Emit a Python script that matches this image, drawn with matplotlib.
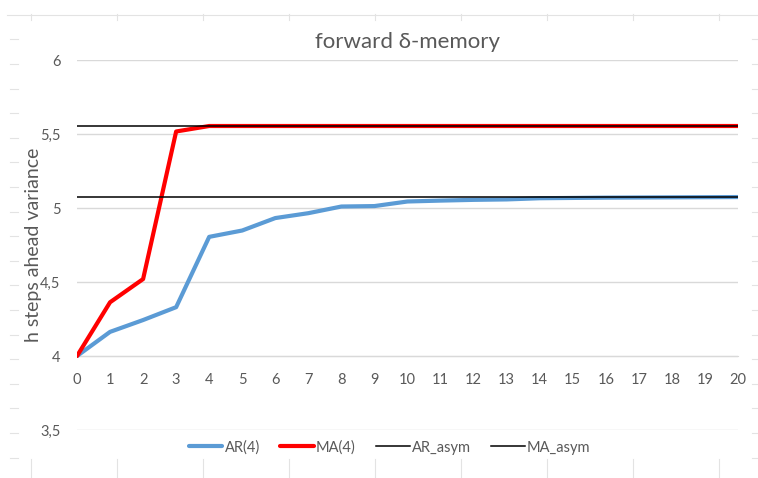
import matplotlib
matplotlib.use("Agg")
import matplotlib.pyplot as plt
from matplotlib.ticker import FuncFormatter, MultipleLocator
from matplotlib.lines import Line2D

# Forecast horizon and h-step-ahead forecast error variances
horizon = list(range(0, 21))
ar4 = [4.0, 4.163, 4.243, 4.33, 4.805, 4.848, 4.932, 4.965, 5.01, 5.013, 5.044,
       5.05, 5.055, 5.058, 5.066, 5.068, 5.07, 5.071, 5.072, 5.073, 5.074]
ma4 = [4.0, 4.363, 4.52, 5.517, 5.554, 5.554, 5.554, 5.554, 5.554, 5.554, 5.554,
       5.554, 5.554, 5.554, 5.554, 5.554, 5.554, 5.554, 5.554, 5.554, 5.554]
ar_asym = 5.074
ma_asym = 5.554

series_names = ["AR(4)", "MA(4)", "AR_asym", "MA_asym"]
title = "forward δ-memory"
ylabel = "h steps ahead variance"

plt.rcParams['font.family'] = ['Lato', 'DejaVu Sans']
TXT = "#595959"
GRID = "#D9D9D9"
SHEET = "#E3E3E3"

W, H = 758, 478
fig = plt.figure(figsize=(W / 100, H / 100), dpi=100)

# spreadsheet cell borders around the chart object
def fl(x0, y0, x1, y1):
    fig.add_artist(Line2D([x0 / W, x1 / W], [1 - y0 / H, 1 - y1 / H],
                          color=SHEET, lw=0.8, transform=fig.transFigure, zorder=0))

fl(7, 15, W, 15)
for x in [31, 117, 203, 289, 375, 461, 547, 633, 719]:
    fl(x, 14, x, 20)
    fl(x, 459, x, H)
for i in range(18):
    y = 39.3 + 24.6 * i
    fl(10, y, 18, y)
    fl(752, y, W, y)

ax = fig.add_axes([77 / W, 1 - 430 / H, (738 - 77) / W, (430 - 60) / H])
ax.set_xlim(0, 20)
ax.set_ylim(3.5, 6)

ax.plot(horizon, ar4, color="#5B9BD5", lw=3.0, solid_joinstyle="round",
        solid_capstyle="round", label=series_names[0], zorder=3)
ax.plot(horizon, ma4, color="#FF0000", lw=3.0, solid_joinstyle="round",
        solid_capstyle="round", label=series_names[1], zorder=4)
ax.plot(horizon, [ar_asym] * len(horizon), color="black", lw=1.1,
        label=series_names[2], zorder=5)
ax.plot(horizon, [ma_asym] * len(horizon), color="black", lw=1.1,
        label=series_names[3], zorder=5)

ax.yaxis.set_major_locator(MultipleLocator(0.5))
ax.yaxis.set_major_formatter(FuncFormatter(lambda v, p: f"{v:g}".replace(".", ",")))
ax.set_xticks(horizon)
ax.grid(axis="y", color=GRID, lw=1.0, zorder=0)
for s in ["top", "right", "left"]:
    ax.spines[s].set_visible(False)
ax.spines["bottom"].set_position(("data", 4))
ax.spines["bottom"].set_color(GRID)
ax.tick_params(axis="both", length=0, colors=TXT, labelsize=10.5)
ax.tick_params(axis="y", pad=12)
ax.tick_params(axis="x", pad=12)

ax.set_title(title, color=TXT, fontsize=16, pad=9)
ax.set_ylabel(ylabel, color=TXT, fontsize=14)
ax.yaxis.set_label_coords(-0.053, 0.5)

leg = ax.legend(loc="upper center", bbox_to_anchor=(0.473, 0.0), ncol=4,
                frameon=False, fontsize=10.5, handlelength=2.3,
                handletextpad=0.15, columnspacing=1.4, borderaxespad=0.3)
for t in leg.get_texts():
    t.set_color(TXT)

fig.savefig("out.png", dpi=100)
